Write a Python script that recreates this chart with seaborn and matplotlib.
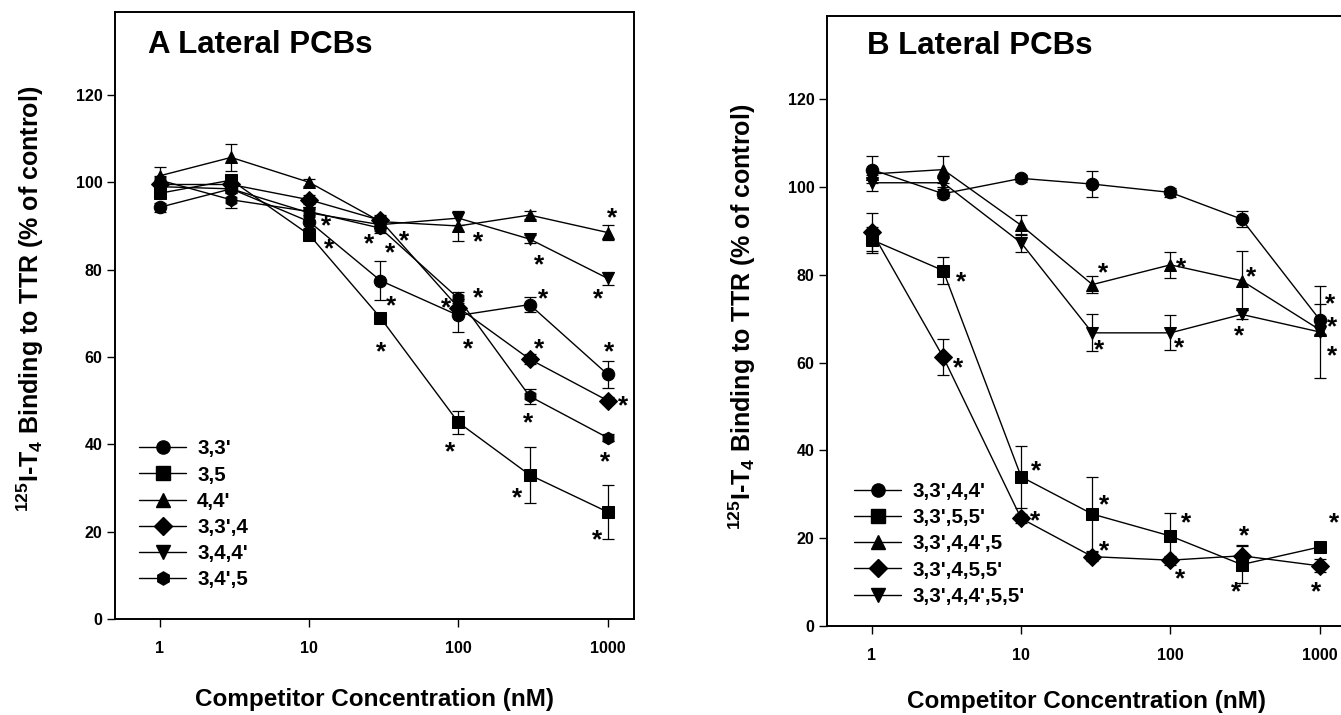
import numpy as np
import pandas as pd
import matplotlib
matplotlib.use("Agg")
import matplotlib.pyplot as plt
from matplotlib.lines import Line2D
import seaborn as sns

# competitor concentrations (nM)
conc = [1, 3, 10, 30, 100, 300, 1000]

# Panel A - lateral PCBs (% of control), with error bars
a_names = ["3,3'", "3,5", "4,4'", "3,3',4", "3,4,4'", "3,4',5"]
a_33 = [94.3, 98.5, 91.0, 77.5, 69.5, 72.0, 56.0]
a_35 = [97.5, 100.5, 88.0, 69.0, 45.0, 33.0, 24.5]
a_44 = [101.5, 105.7, 100.0, 91.0, 90.0, 92.5, 88.5]
a_334 = [99.5, 99.5, 96.0, 91.3, 71.3, 59.5, 50.0]
a_344 = [99.0, 98.5, 93.0, 90.3, 91.8, 87.0, 78.0]
a_345 = [100.5, 96.0, 93.3, 89.5, 73.4, 51.0, 41.5]
a_33_err = [1.0, 1.0, 1.5, 4.5, 3.7, 1.8, 3.0]
a_35_err = [1.0, 1.2, 1.0, 1.0, 2.7, 6.4, 6.2]
a_44_err = [2.0, 3.0, 0.8, 1.5, 3.5, 1.0, 1.8]
a_334_err = [1.0, 1.0, 1.0, 1.0, 1.0, 1.2, 0.8]
a_344_err = [1.0, 1.0, 1.0, 1.0, 1.5, 1.0, 1.5]
a_345_err = [1.0, 1.8, 1.0, 1.0, 1.5, 1.7, 0.8]

# Panel B
b_names = ["3,3',4,4'", "3,3',5,5'", "3,3',4,4',5", "3,3',4,5,5'", "3,3',4,4',5,5'"]
b_3344 = [104.0, 98.5, 102.0, 100.7, 98.8, 92.7, 69.8]
b_3355 = [88.0, 81.0, 34.0, 25.5, 20.5, 14.0, 18.0]
b_33445 = [103.0, 104.0, 91.3, 77.8, 82.3, 78.7, 67.5]
b_33455 = [89.8, 61.3, 24.5, 15.8, 15.0, 16.0, 13.7]
b_334455 = [101.0, 101.0, 87.3, 66.8, 66.8, 71.0, 67.0]
b_3344_err = [3.0, 1.0, 0.8, 3.0, 1.0, 1.8, 3.5]
b_3355_err = [3.0, 3.0, 7.0, 8.5, 5.2, 4.2, 1.0]
b_33445_err = [1.0, 3.0, 2.3, 2.0, 3.0, 6.8, 1.0]
b_33455_err = [4.3, 4.0, 1.0, 1.0, 1.0, 2.4, 1.5]
b_334455_err = [1.8, 1.0, 2.0, 4.2, 4.0, 1.0, 10.5]

markers_a = {"3,3'": "o", "3,5": "s", "4,4'": "^", "3,3',4": "D", "3,4,4'": "v", "3,4',5": "h"}
markers_b = {"3,3',4,4'": "o", "3,3',5,5'": "s", "3,3',4,4',5": "^", "3,3',4,5,5'": "D", "3,3',4,4',5,5'": "v"}

# significance stars: (series, concentration, dx px, dy px down)
stars_a = [("3,3'", 10, 17, -2), ("3,5", 10, 20, 8), ("3,4',5", 30, -11, 9), ("3,4,4'", 30, 24, 10),
           ("3,3',4", 30, 10, 26), ("4,4'", 100, 20, 9), ("4,4'", 1000, 4, -21), ("3,4,4'", 300, 9, 19),
           ("3,4,4'", 1000, -10, 14), ("3,4',5", 100, 20, -7), ("3,3',4", 100, -12, -6), ("3,3'", 300, 13, -12),
           ("3,3'", 30, 11, 19), ("3,5", 30, 1, 28), ("3,3'", 100, 10, 27), ("3,3',4", 300, 9, -17),
           ("3,3'", 1000, 1, -29), ("3,3',4", 1000, 15, -1), ("3,4',5", 300, -2, 20), ("3,5", 100, -8, 23),
           ("3,4',5", 1000, -3, 18), ("3,5", 300, -13, 16), ("3,5", 1000, -11, 21)]
stars_b = [("3,3',5,5'", 3, 18, 5), ("3,3',4,5,5'", 3, 15, 4), ("3,3',4,4',5", 30, 11, -18),
           ("3,3',4,4',5", 100, 11, -4), ("3,3',4,4',5", 300, 9, -10), ("3,3',4,4',5,5'", 30, 7, 10),
           ("3,3',4,4',5,5'", 100, 9, 8), ("3,3',4,4',5,5'", 300, -3, 15), ("3,3',4,4',5", 1000, 10, -32),
           ("3,3',4,4'", 1000, 12, 1), ("3,3',4,4',5,5'", 1000, 12, 17), ("3,3',5,5'", 10, 15, -12),
           ("3,3',4,5,5'", 10, 14, -4), ("3,3',5,5'", 30, 12, -16), ("3,3',4,5,5'", 30, 12, -12),
           ("3,3',5,5'", 100, 16, -20), ("3,3',4,5,5'", 100, 10, 12), ("3,3',4,5,5'", 300, 2, -26),
           ("3,3',5,5'", 300, -6, 21), ("3,3',5,5'", 1000, 14, -31), ("3,3',4,5,5'", 1000, -4, 19)]


def long_form(names, vals, errs):
    rows = []
    for n, v, e in zip(names, vals, errs):
        for c, y, s in zip(conc, v, e):
            rows.append({"compound": n, "conc": c, "binding": y, "err": s})
    return pd.DataFrame(rows)


df_a = long_form(a_names, [a_33, a_35, a_44, a_334, a_344, a_345],
                 [a_33_err, a_35_err, a_44_err, a_334_err, a_344_err, a_345_err])
df_b = long_form(b_names, [b_3344, b_3355, b_33445, b_33455, b_334455],
                 [b_3344_err, b_3355_err, b_33445_err, b_33455_err, b_334455_err])

sns.set_style("ticks")
plt.rcParams["font.family"] = ["Liberation Sans", "DejaVu Sans"]
plt.rcParams["font.weight"] = "bold"
plt.rcParams["mathtext.fontset"] = "custom"
plt.rcParams["mathtext.rm"] = "Liberation Sans:bold"
plt.rcParams["mathtext.it"] = "Liberation Sans:bold"
plt.rcParams["mathtext.bf"] = "Liberation Sans:bold"
for key in ["text.color", "axes.labelcolor", "xtick.color", "ytick.color", "axes.edgecolor"]:
    plt.rcParams[key] = "black"

fig = plt.figure(figsize=(13.41, 7.15), dpi=100)
ax_a = fig.add_axes([115 / 1341, 96 / 715, 519 / 1341, 607 / 715])
ax_b = fig.add_axes([827 / 1341, 89 / 715, 519 / 1341, 610 / 715])


def draw_panel(ax, df, names, markers, stars, title, title_xy, leg_xy, ylab_y, xpad):
    sns.lineplot(data=df, x="conc", y="binding", hue="compound", style="compound",
                 hue_order=names, style_order=names, palette=["black"] * len(names),
                 markers=markers, dashes=False, markersize=9, markeredgecolor="black",
                 linewidth=1.0, legend=False, ax=ax, errorbar=None)
    for n in names:
        sub = df[df["compound"] == n]
        ax.errorbar(sub["conc"], sub["binding"], yerr=sub["err"], fmt="none",
                    ecolor="black", elinewidth=0.9, capsize=4, capthick=0.9, zorder=1)
    for n, c, dx, dy in stars:
        row = df[(df["compound"] == n) & (df["conc"] == c)].iloc[0]
        ax.annotate("*", (row["conc"], row["binding"]), xytext=(dx, -dy - 14),
                    textcoords="offset pixels", ha="center", va="baseline",
                    fontsize=19, fontweight="bold")
    ax.set_xscale("log")
    ax.set_xlim(0.5, 1500)
    ax.set_ylim(0, 139)
    ax.set_xticks([1, 10, 100, 1000])
    ax.set_xticklabels(["1", "10", "100", "1000"])
    ax.minorticks_off()
    ax.set_yticks(range(0, 121, 20))
    ax.tick_params(axis="both", labelsize=11.5, width=1.0, length=6, direction="out")
    ax.tick_params(axis="x", pad=10)
    ax.tick_params(axis="y", pad=3)
    for lab in ax.get_xticklabels() + ax.get_yticklabels():
        lab.set_fontweight("bold")
    for sp in ax.spines.values():
        sp.set_linewidth(1.4)
        sp.set_color("black")
    ax.set_xlabel("Competitor Concentration (nM)", fontsize=17.5, fontweight="bold", labelpad=xpad)
    ax.set_ylabel(r"${}^{125}$I-T$_{4}$ Binding to TTR (% of control)", fontsize=18, fontweight="bold")
    ax.yaxis.set_label_coords(-0.133, ylab_y)
    ax.text(title_xy[0], title_xy[1], title, transform=ax.transAxes, fontsize=22.5,
            fontweight="bold", ha="left", va="baseline")
    handles = [Line2D([], [], color="black", marker=markers[n], markersize=9.5, linewidth=1.0)
               for n in names]
    ax.legend(handles, names, loc="upper left", bbox_to_anchor=leg_xy, frameon=False,
              handlelength=2.3, handletextpad=0.53, labelspacing=0.35,
              borderpad=0, borderaxespad=0, prop={"weight": "bold", "size": 14.8})


draw_panel(ax_a, df_a, a_names, markers_a, stars_a, "A Lateral PCBs", (0.064, 0.932), (0.046, 0.296), 0.527, 23)
draw_panel(ax_b, df_b, b_names, markers_b, stars_b, "B Lateral PCBs", (0.077, 0.938), (0.052, 0.236), 0.507, 19)

fig.savefig("out.png", dpi=100)
